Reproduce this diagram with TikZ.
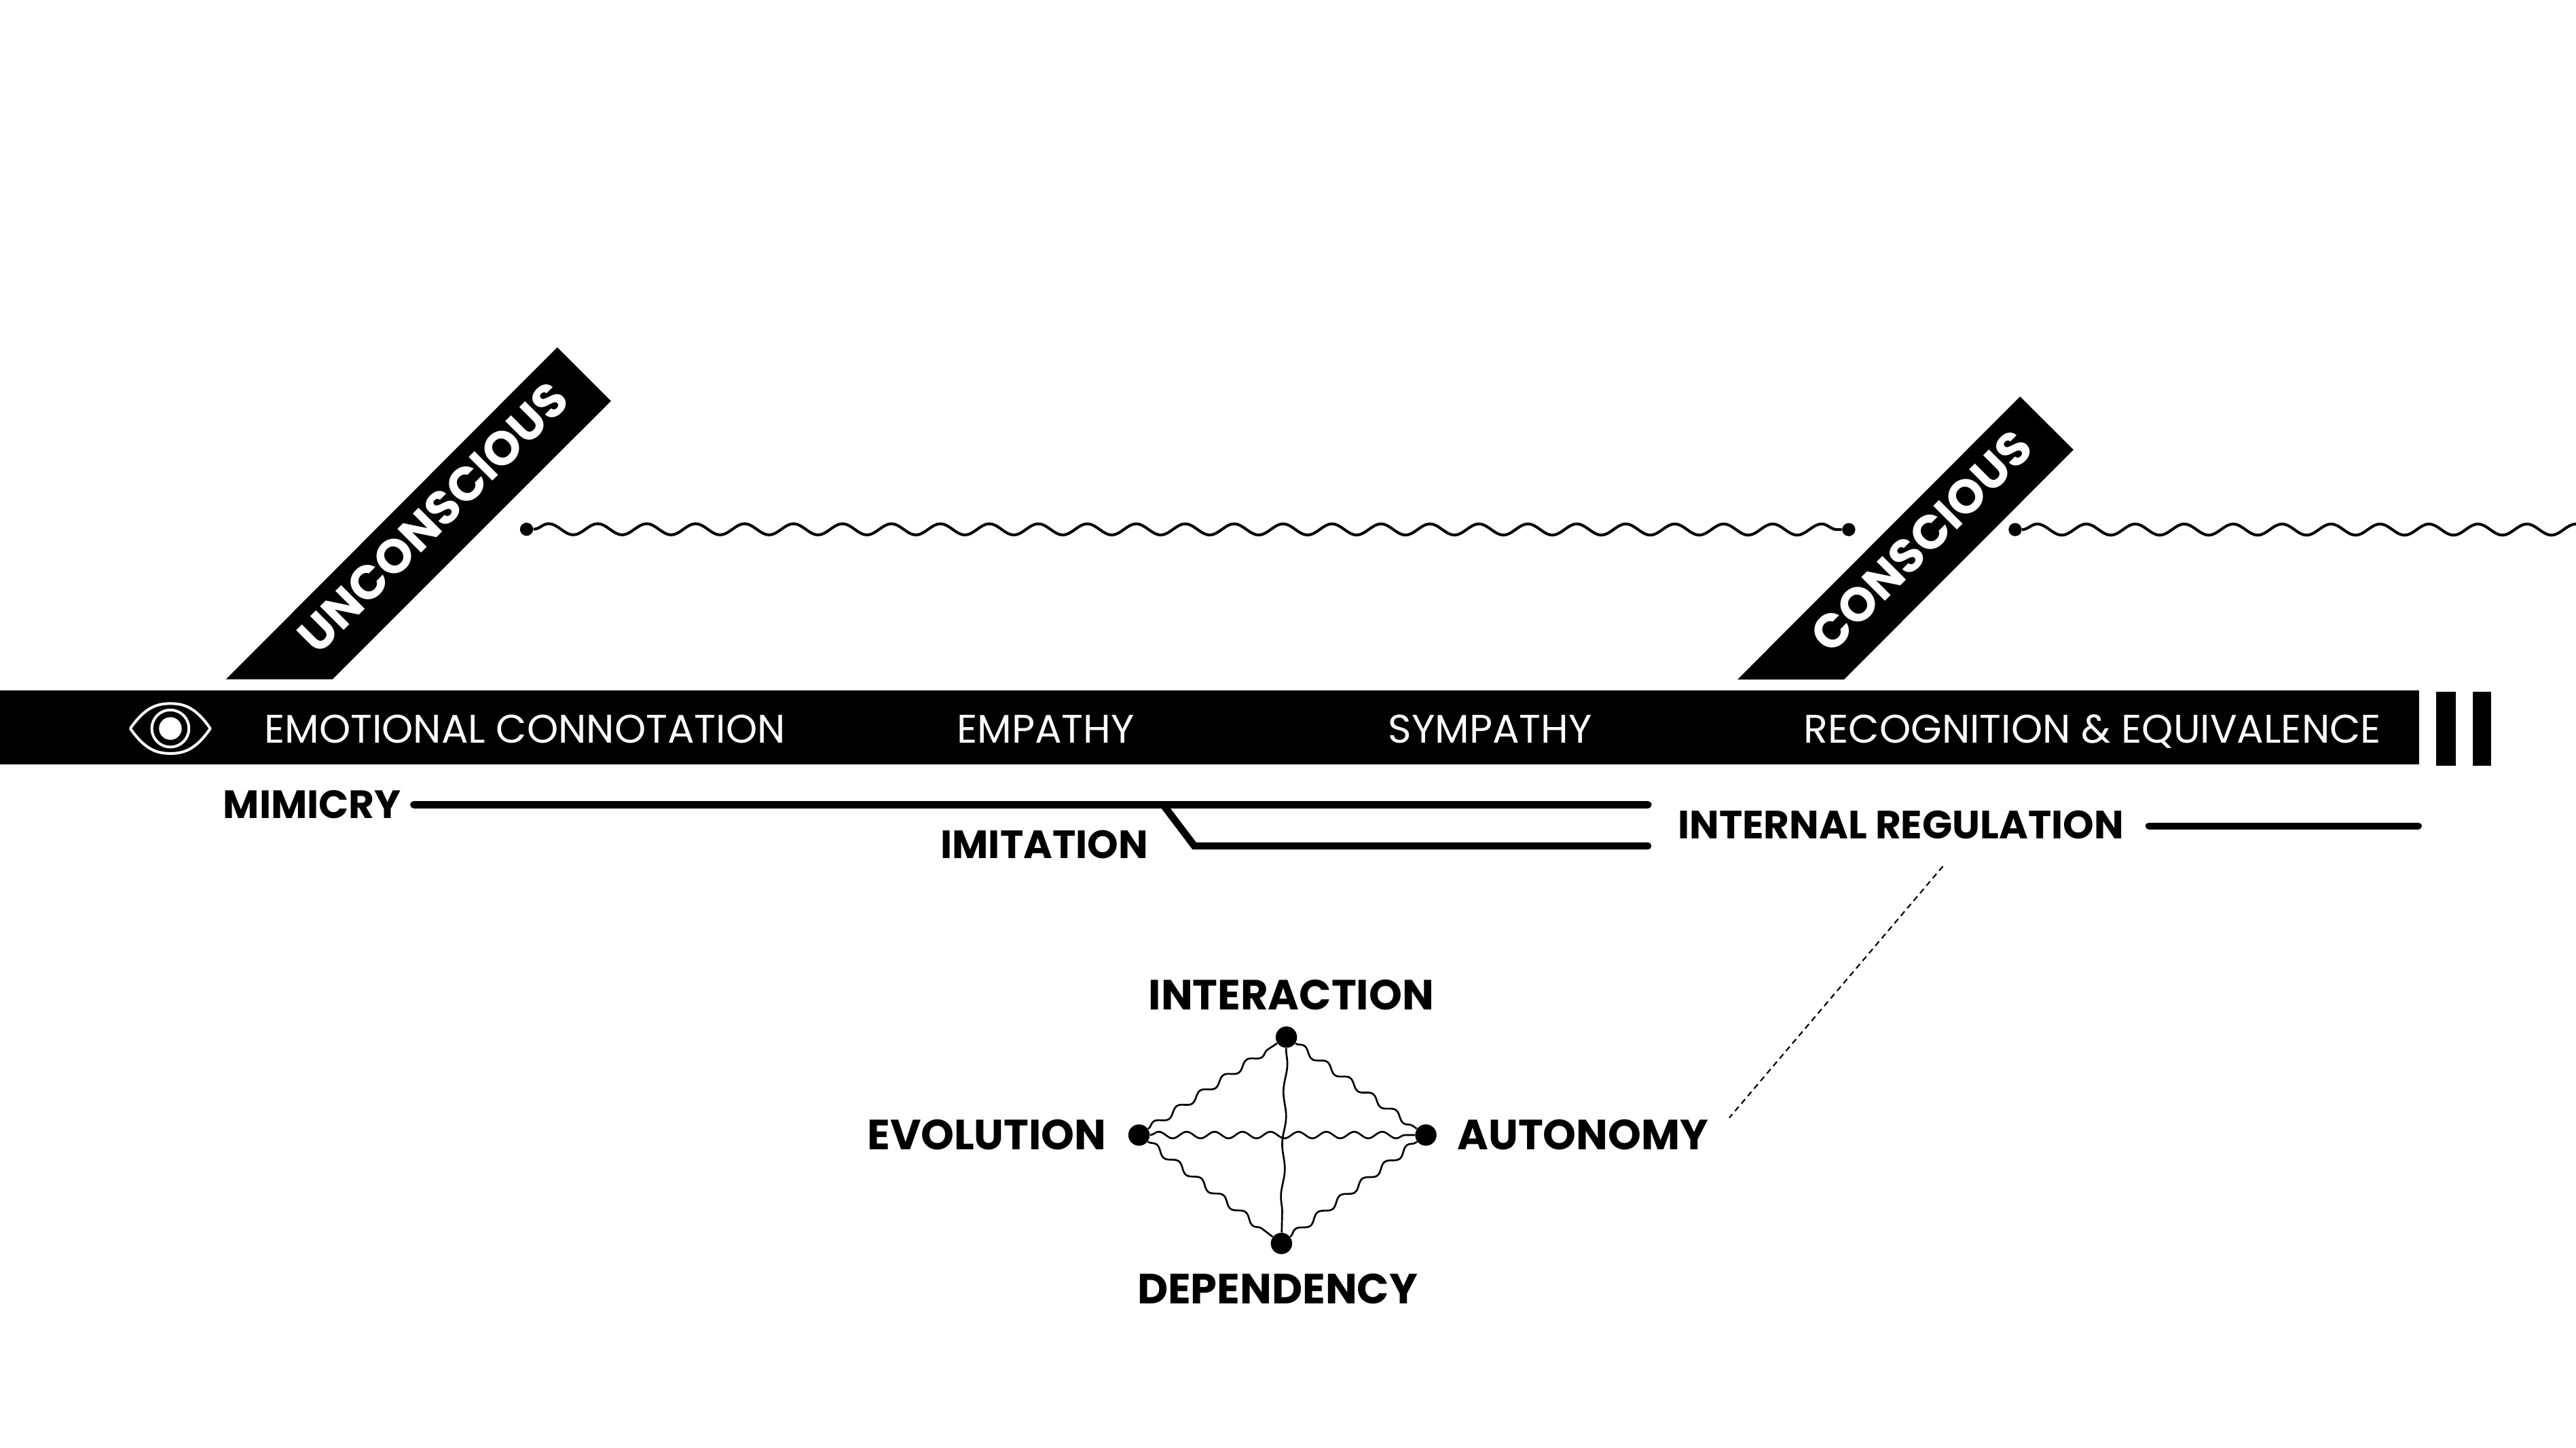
\documentclass[tikz,border=0pt]{standalone}
\usepackage{fontspec}
\setmainfont{Poppins}
\usetikzlibrary{decorations.pathmorphing}
\begin{document}
\begin{tikzpicture}[x=1pt,y=-1pt,
  bartext/.style={text=white, font=\fontsize{24.3}{25}\selectfont, inner sep=0pt, anchor=base},
  lbl/.style={font=\bfseries\fontsize{24}{24}\selectfont, inner sep=0pt, anchor=base},
  dlbl/.style={font=\bfseries\fontsize{25.7}{26}\selectfont, inner sep=0pt, anchor=base},
  bandtext/.style={text=white, font=\bfseries\fontsize{29}{29}\selectfont, inner sep=0pt, rotate=45},
  wdot/.style={circle, fill=black, inner sep=0pt, minimum size=8pt},
  gdot/.style={circle, fill=black, inner sep=0pt, minimum size=13pt},
  wave/.style={line width=1.7pt, decorate, decoration={snake, amplitude=3.4pt, segment length=29.8pt}},
  gwave/.style={line width=1.1pt, decorate, decoration={snake, amplitude=2pt, segment length=17pt}},
  vwave/.style={line width=1.1pt, decorate, decoration={snake, amplitude=1pt, segment length=32pt}},
  solidline/.style={line width=4.6pt, line cap=round},
  dashline/.style={line width=0.9pt, dash pattern=on 3.5pt off 2.5pt}
]
\useasboundingbox (0,0) rectangle (1568,881.5);
\clip (0,0) rectangle (1568,881.5);

% diagonal bands
\fill (137.6,413.5) -- (202.4,413.5) -- (371.9,244.1) -- (339.2,211.4) -- cycle;
\node[bandtext] (unc) at (263.5,315) {UNCONSCIOUS};
\fill (1057.7,413.6) -- (1122.5,413.6) -- (1262.1,273.8) -- (1229.6,241.4) -- cycle;
\node[bandtext] (con) at (1169.6,329.5) {CONSCIOUS};

% main bar
\fill (0,420.5) rectangle (1472.5,465.5);
\fill (1483,421) rectangle (1495,466);
\fill (1505,421) rectangle (1516.5,466);

\node[bartext] (emo) at (319.5,452.2) {EMOTIONAL CONNOTATION};
\node[bartext] (emp) at (636.5,452.2) {EMPATHY};
\node[bartext] (sym) at (907,452.2) {SYMPATHY};
\node[bartext] (rec) at (1273.7,452.2) {RECOGNITION \& EQUIVALENCE};

% eye icon
\draw[white, line width=1.65pt, line join=round]
  (79.3,443.5) .. controls (88,431) and (95,428.3) .. (103.7,428.3)
  .. controls (112.4,428.3) and (119.4,431) .. (128,443.5)
  .. controls (119.4,456) and (112.4,458.7) .. (103.7,458.7)
  .. controls (95,458.7) and (88,456) .. (79.3,443.5) -- cycle;
\draw[white, line width=1.65pt] (103.7,443.5) circle[radius=11.3pt];
\fill[white] (103.7,443.5) circle[radius=6.9pt];

% wavy timeline
\node[wdot] (w1) at (320.5,322.2) {};
\node[wdot] (w2) at (1125.3,322.4) {};
\node[wdot] (w3) at (1226.6,322.4) {};
\coordinate (wend) at (1590,322.4);
\draw[wave] (w1) -- (w2);
\draw[wave] (w3) -- (wend);

% lines under the bar
\node[lbl] (lmim) at (190,498.4) {MIMICRY};
\node[lbl] (limi) at (635.7,522.5) {IMITATION};
\node[lbl] (lreg) at (1157,510.4) {INTERNAL REGULATION};
\coordinate (m1) at (252,489.9);
\coordinate (m2) at (1003,489.9);
\coordinate (i0) at (708,489.9);
\coordinate (i1) at (727,515);
\coordinate (i2) at (1003,515);
\coordinate (r1) at (1308,502.8);
\coordinate (r2) at (1472,502.8);
\draw[solidline] (m1) -- (m2);
\draw[solidline, line width=4.4pt, line join=miter] (i2) -- (i1) -- (i0);
\draw[solidline, line width=4.2pt] (r1) -- (r2);

% dashed link
\coordinate (d1) at (1182.6,527.4);
\coordinate (d2) at (1052.6,680.5);
\draw[dashline] (d1) -- (d2);

% diamond
\node[gdot] (int) at (783,631.4) {};
\node[gdot] (evo) at (693.3,691) {};
\node[gdot] (aut) at (867.9,691) {};
\node[gdot] (dep) at (780,757) {};
\draw[gwave] (evo) -- (int);
\draw[gwave] (int) -- (aut);
\draw[gwave] (evo) -- (dep);
\draw[gwave] (dep) -- (aut);
\draw[gwave] (evo) -- (aut);
\draw[vwave] (int) -- (dep);

\node[dlbl] (lint) at (786,614.7) {INTERACTION};
\node[dlbl] (levo) at (600.7,700) {EVOLUTION};
\node[dlbl] (laut) at (963.5,700) {AUTONOMY};
\node[dlbl] (ldep) at (777.6,793.5) {DEPENDENCY};
\end{tikzpicture}
\end{document}
